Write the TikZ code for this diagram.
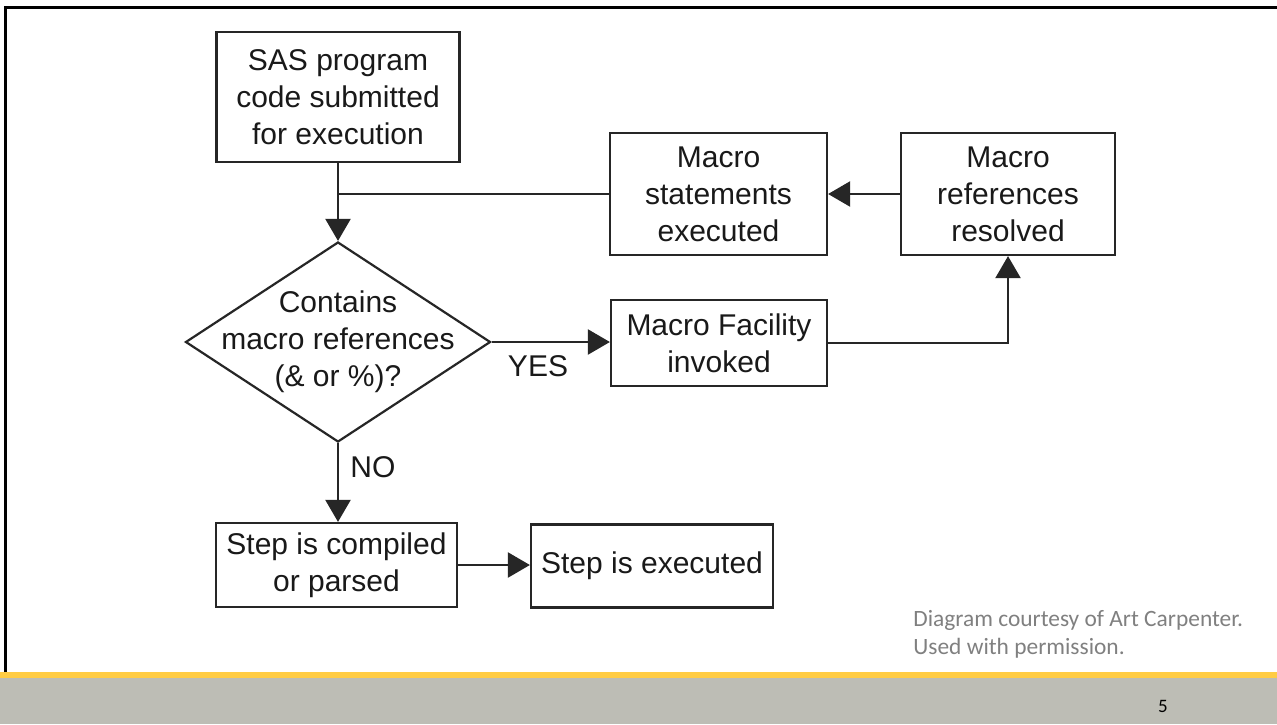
\documentclass[tikz,border=0pt]{standalone}
\usepackage{fontspec}
\setmainfont{Liberation Sans}
\newfontfamily\calib{Carlito}
\usetikzlibrary{arrows.meta,shapes.geometric}
\definecolor{ylw}{RGB}{255,204,68}
\definecolor{barg}{RGB}{189,189,181}
\definecolor{ftg}{RGB}{128,128,128}
\begin{document}
\begin{tikzpicture}[x=0.5pt,y=-0.5pt,
  box/.style={draw=black!85, line width=1.1pt, rectangle, align=center, inner sep=0pt,
              font=\fontsize{15}{18.5}\selectfont, text=black!90},
  arr/.style={draw=black!85, line width=1.1pt, -{Triangle[length=11pt,width=12.5pt]}},
  conn/.style={draw=black!85, line width=1.1pt},
  lbl/.style={font=\fontsize{15}{18.5}\selectfont, inner sep=0pt, text=black!90},
]
\useasboundingbox (0,0) rectangle (1277,724);
\fill[white] (0,0) rectangle (1277,724);
\fill[barg] (0,678) rectangle (1277,724);
\fill[ylw] (0,672) rectangle (1277,678);
\draw[line width=1.5pt] (5,672) -- (5,7) -- (1277,7);

\node[box, minimum width=121.5pt, minimum height=65pt] (sas) at (338,97) {SAS program\\code submitted\\for execution};
\node[draw=black!85, line width=1.1pt, shape=diamond, minimum width=152.5pt, minimum height=100pt, inner sep=0pt] (dia) at (338,342) {};
\node[lbl, align=center] (dtxt) at (338,342) {Contains\\macro references\\(\& or \%)?};
\node[box, minimum width=108.5pt, minimum height=61pt] (stm) at (718.5,194) {Macro\\statements\\executed};
\node[box, minimum width=107pt, minimum height=61pt] (refs) at (1008,194) {Macro\\references\\resolved};
\node[box, minimum width=108pt, minimum height=43pt] (fac) at (719,343) {Macro Facility\\invoked};
\node[box, minimum width=120.5pt, minimum height=42pt] (comp) at (336.5,565) {Step is compiled\\or parsed};
\node[box, minimum width=121pt, minimum height=41.5pt] (exec) at (652,566) {Step is executed};

\draw[arr] (sas.south) -- (dia.north);
\coordinate (j) at (sas.south |- stm.west);
\draw[conn] (j) -- (stm.west);
\draw[arr] (refs.west) -- (stm.east);
\draw[arr] (dia.east) -- (dia.east -| fac.west);
\node[lbl] (yes) at (538,366) {YES};
\draw[arr] (fac.east) -| (refs.south);
\draw[arr] (dia.south) -- (dia.south |- comp.north);
\node[lbl, anchor=west] (no) at (350,467) {NO};
\draw[arr] (comp.east) -- (comp.east -| exec.west);

\node[anchor=west, align=left, inner sep=0pt, text=ftg, font=\calib\fontsize{11.7}{14}\selectfont] (credit) at (913,634) {Diagram courtesy of Art Carpenter.\\Used with permission.};
\node[font=\calib\fontsize{9.5}{11}\selectfont, inner sep=0pt] (pg) at (1163,706) {5};
\end{tikzpicture}
\end{document}
